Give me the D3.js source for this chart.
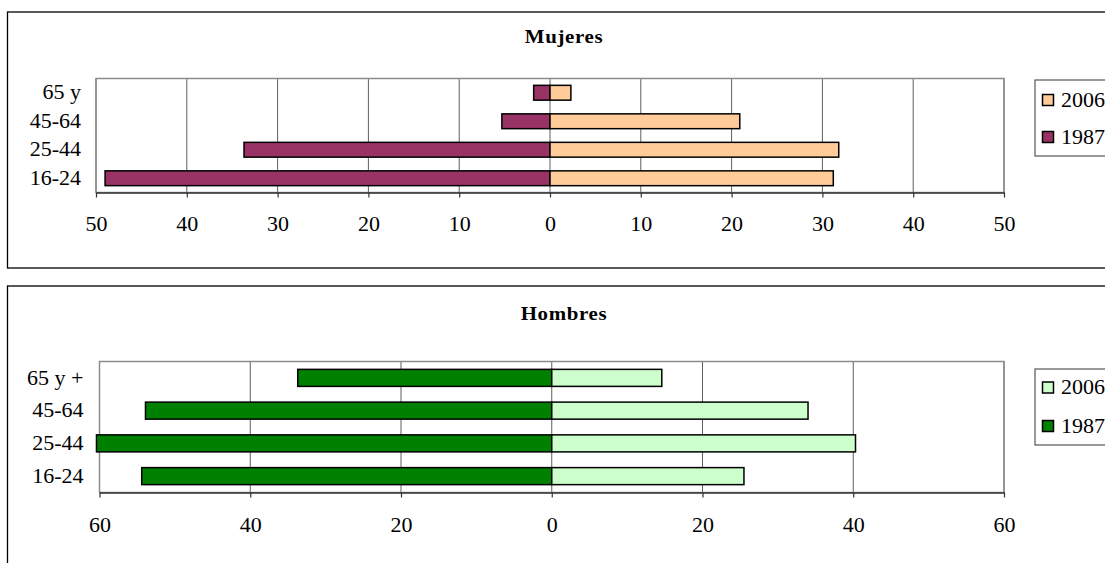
<!DOCTYPE html>
<html>
<head>
<meta charset="utf-8">
<script src="https://cdn.jsdelivr.net/npm/d3@7"></script>
<style>
  html, body { margin: 0; padding: 0; background: #fff; }
  svg { display: block; }
  text { font-family: "Liberation Serif", "Times New Roman", serif; fill: #000; }
</style>
</head>
<body>
<svg id="chart" width="1105" height="563"></svg>
<script>
// Age groups (bottom to top)
const ageGroupsMujeres = ["16-24", "25-44", "45-64", "65 y"];
const ageGroupsHombres = ["16-24", "25-44", "45-64", "65 y +"];

// Series values (percent)
const mujeres1987 = [49.0, 33.7, 5.3, 1.8];
const mujeres2006 = [31.2, 31.8, 20.9, 2.3];
const hombres1987 = [54.4, 60.4, 53.9, 33.7];
const hombres2006 = [25.5, 40.3, 34.0, 14.6];

// Axis ticks
const mujeresTicks = [-50, -40, -30, -20, -10, 0, 10, 20, 30, 40, 50];
const hombresTicks = [-60, -40, -20, 0, 20, 40, 60];

const seriesNames = ["2006", "1987"];

const svg = d3.select("#chart");
const STRETCH = "scale(1.1,1)";

function drawPanel(cfg) {
  const g = svg.append("g");

  // outer frame
  g.append("rect")
    .attr("x", cfg.frame.x).attr("y", cfg.frame.y)
    .attr("width", cfg.frame.w).attr("height", cfg.frame.h)
    .attr("fill", "#fff").attr("stroke", "#000").attr("stroke-width", 1.3);

  // title
  g.append("text")
    .attr("transform", `translate(${cfg.titleX},${cfg.titleY}) ${STRETCH}`)
    .attr("text-anchor", "middle")
    .attr("dominant-baseline", "central")
    .style("font-size", "19px").style("font-weight", "bold")
    .style("letter-spacing", "0.6px")
    .text(cfg.title);

  const x = d3.scaleLinear().domain(cfg.domain).range([cfg.plot.left, cfg.plot.right]);
  const y = d3.scaleBand()
    .domain(cfg.categories.slice().reverse())
    .range([cfg.plot.top, cfg.plot.bottom])
    .paddingInner(0.48).paddingOuter(0.24);

  // vertical gridlines
  g.append("g").selectAll("line").data(cfg.ticks).join("line")
    .attr("x1", d => x(d)).attr("x2", d => x(d))
    .attr("y1", cfg.plot.top).attr("y2", cfg.plot.bottom)
    .attr("stroke", "#5e5e5e").attr("stroke-width", 1);

  // plot area border
  g.append("rect")
    .attr("x", cfg.plot.left).attr("y", cfg.plot.top)
    .attr("width", cfg.plot.right - cfg.plot.left)
    .attr("height", cfg.plot.bottom - cfg.plot.top)
    .attr("fill", "none").attr("stroke", "#8c8c8c").attr("stroke-width", 1.5);

  // bars: 1987 to the left (negative), 2006 to the right
  const rows = cfg.categories.map((c, i) => ({ c, v1987: -cfg.v1987[i], v2006: cfg.v2006[i] }));
  const barG = g.append("g");
  barG.selectAll("rect.b1987").data(rows).join("rect")
    .attr("class", "b1987")
    .attr("x", d => x(Math.min(0, d.v1987)))
    .attr("width", d => Math.abs(x(d.v1987) - x(0)))
    .attr("y", d => y(d.c)).attr("height", y.bandwidth())
    .attr("fill", cfg.colors[1]).attr("stroke", "#000").attr("stroke-width", 1.5);
  barG.selectAll("rect.b2006").data(rows).join("rect")
    .attr("class", "b2006")
    .attr("x", d => x(0))
    .attr("width", d => x(d.v2006) - x(0))
    .attr("y", d => y(d.c)).attr("height", y.bandwidth())
    .attr("fill", cfg.colors[0]).attr("stroke", "#000").attr("stroke-width", 1.5);

  // bottom axis
  const axis = d3.axisBottom(x)
    .tickValues(cfg.ticks)
    .tickFormat(d => d3.format("d")(Math.abs(d)))
    .tickSizeInner(5).tickSizeOuter(0).tickPadding(cfg.tickPad);
  const ax = g.append("g")
    .attr("transform", `translate(0,${cfg.plot.bottom})`)
    .call(axis);
  ax.select(".domain").attr("stroke", "#333").attr("stroke-width", 1.5);
  ax.selectAll(".tick line").attr("stroke", "#333").attr("stroke-width", 1.2);
  ax.selectAll(".tick text")
    .attr("transform", STRETCH)
    .style("font-size", "20px")
    .style("font-family", "'Liberation Serif', 'Times New Roman', serif")
    .attr("fill", "#000");

  // category labels
  g.append("g").selectAll("text").data(cfg.categories).join("text")
    .attr("transform", d => `translate(${cfg.plot.left - cfg.labelGap},${y(d) + y.bandwidth() / 2}) ${STRETCH}`)
    .attr("text-anchor", "end")
    .attr("dominant-baseline", "central")
    .style("font-size", "20px")
    .text(d => d);

  // legend
  const lg = g.append("g");
  lg.append("rect")
    .attr("x", cfg.legend.x).attr("y", cfg.legend.y)
    .attr("width", 110).attr("height", cfg.legend.h)
    .attr("fill", "#fff").attr("stroke", "#555").attr("stroke-width", 1.2);
  const items = lg.selectAll("g.item").data(seriesNames).join("g")
    .attr("class", "item")
    .attr("transform", (d, i) => `translate(${cfg.legend.x},${cfg.legend.rows[i]})`);
  items.append("rect")
    .attr("x", 7.5).attr("y", -5.5).attr("width", 11).attr("height", 11)
    .attr("fill", (d, i) => cfg.colors[i])
    .attr("stroke", "#000").attr("stroke-width", 1.5);
  items.append("text")
    .attr("transform", `translate(26,0) ${STRETCH}`)
    .attr("dominant-baseline", "central")
    .style("font-size", "20px")
    .text(d => d);
}

drawPanel({
  title: "Mujeres",
  categories: ageGroupsMujeres,
  v1987: mujeres1987, v2006: mujeres2006,
  ticks: mujeresTicks, domain: [-50, 50],
  colors: ["#FFCC99", "#993366"],
  frame: { x: 7.5, y: 12, w: 1120, h: 256 },
  titleX: 564, titleY: 36,
  plot: { left: 96, right: 1004, top: 78.5, bottom: 192.5 },
  labelGap: 15,
  tickPad: 19,
  legend: { x: 1035, y: 80, h: 76, rows: [100, 137] }
});

drawPanel({
  title: "Hombres",
  categories: ageGroupsHombres,
  v1987: hombres1987, v2006: hombres2006,
  ticks: hombresTicks, domain: [-60, 60],
  colors: ["#CCFFCC", "#008000"],
  frame: { x: 7.5, y: 286, w: 1120, h: 300 },
  titleX: 564, titleY: 313,
  plot: { left: 99.5, right: 1004, top: 361.5, bottom: 492.5 },
  labelGap: 16,
  tickPad: 20,
  legend: { x: 1035, y: 369, h: 76, rows: [387.5, 426] }
});
</script>
</body>
</html>
